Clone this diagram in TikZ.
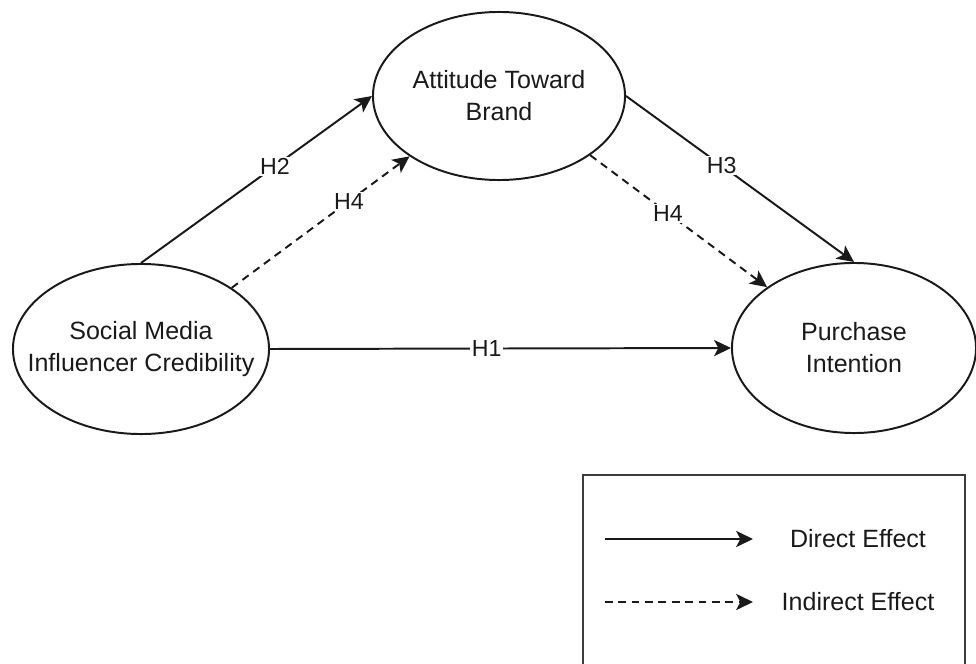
\documentclass[tikz,border=0pt]{standalone}
\usepackage{fontspec}
\setmainfont{Liberation Sans}
\usetikzlibrary{arrows.meta, shapes.geometric}
\definecolor{inkblack}{HTML}{1A1A1A}

\begin{document}
\begin{tikzpicture}[
  x=0.025cm, y=-0.025cm,
  >={Stealth[length=12pt, width=11.5pt, inset=3pt]},
  construct/.style={
    draw=inkblack, ellipse, line width=1.4pt, inner sep=0pt,
    minimum width=#1, minimum height=4.25cm
  },
  ctext/.style={font=\fontsize{17.8}{22.7}\selectfont, text=inkblack, align=center},
  hyp/.style={fill=white, inner sep=1pt, font=\fontsize{16.5}{19}\selectfont, text=inkblack},
  direct/.style={->, line width=1.4pt, inkblack},
  indirect/.style={->, line width=1.4pt, inkblack, dash pattern=on 5.5pt off 4pt},
]

% Canvas
\useasboundingbox (0,0) rectangle (976,664);

% =============================================
% Constructs
% =============================================
\node[construct=6.4cm] (smic) at (141,349) {};
\node[ctext] (smic-t) at (smic) {Social Media\\Influencer Credibility};

\node[construct=6.3cm, minimum height=4.2cm] (atb) at (499,96) {};
\node[ctext] (atb-t) at (atb) {Attitude Toward\\Brand};

\node[construct=6.1cm] (pi) at (854,348) {};
\node[ctext] (pi-t) at (pi) {Purchase\\Intention};

% =============================================
% Hypothesised paths
% =============================================
\draw[direct] (smic.east) -- (pi.west) node[hyp, pos=0.47] {H1};
\draw[direct] (smic.north) -- (atb.west) node[hyp, pos=0.58] {H2};
\draw[direct] (atb.east) -- (pi.north) node[hyp, pos=0.42] {H3};
\draw[indirect] (smic.34) -- (atb.214) node[hyp, pos=0.66] {H4};
\draw[indirect] (atb.-33) -- (pi.145) node[hyp, pos=0.44] {H4};

% =============================================
% Legend
% =============================================
\draw[inkblack!85, line width=1.4pt] (583,670) -- (583,475) -- (965,475) -- (965,670);

\coordinate (d-start) at (605,539);
\coordinate (d-end) at (753,539);
\coordinate (i-start) at (605,602);
\coordinate (i-end) at (753,602);
\draw[direct] (d-start) -- (d-end);
\draw[indirect] (i-start) -- (i-end);

\node[ctext] (d-text) at (858,539) {Direct Effect};
\node[ctext] (i-text) at (858,602) {Indirect Effect};

\end{tikzpicture}
\end{document}
